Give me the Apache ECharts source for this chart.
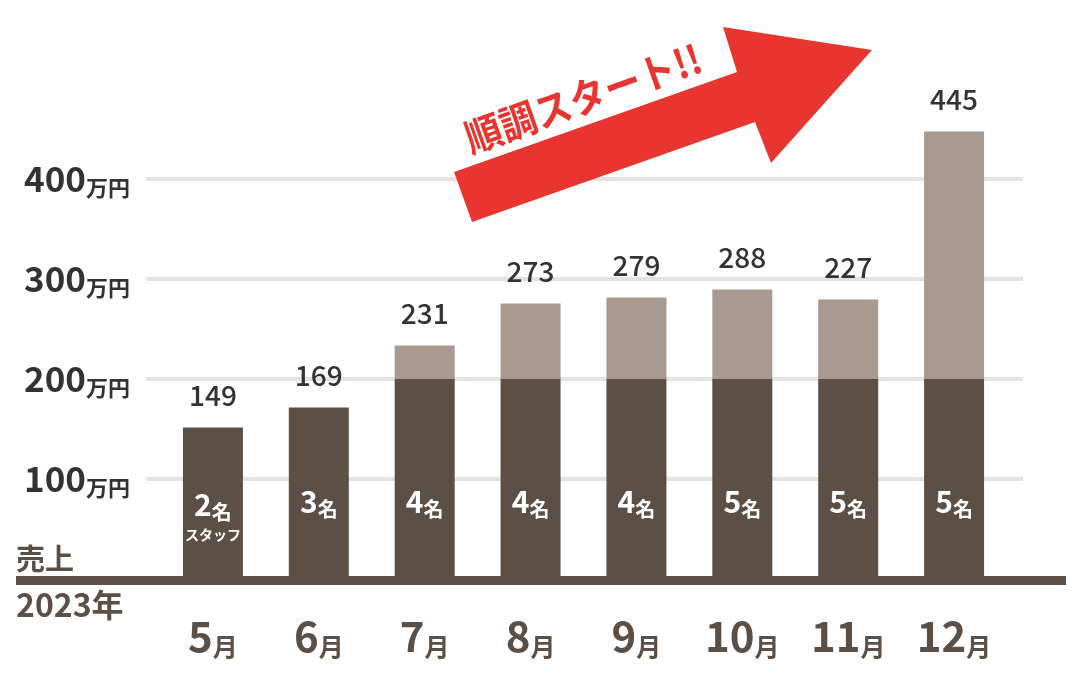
<!DOCTYPE html>
<html>
<head>
<meta charset="utf-8">
<style>
html,body{margin:0;padding:0;background:#fff;}
#c{width:1088px;height:678px;}
</style>
<script src="https://cdn.jsdelivr.net/npm/echarts@6/dist/echarts.min.js"></script>
</head>
<body>
<div id="c"></div>
<script>
// ---- data ----
const months = ['5', '6', '7', '8', '9', '10', '11', '12'];
const salesBarValues = [151, 171, 233, 275, 281, 289, 279, 447];
const salesLabels = ['149', '169', '231', '273', '279', '288', '227', '445'];
const staffCounts = [2, 3, 4, 4, 4, 5, 5, 5];
const yTickValues = [0, 100, 200, 300, 400];
const baseCap = 200;

const FONT = '"Noto Sans CJK JP", "Noto Sans", sans-serif';
const DARK = '#5c4f46';
const LIGHT = '#a89a91';
const GRID = '#e6e2de';
const TEXT = '#333333';
const RED = '#e8352f';

const darkPart = salesBarValues.map(v => Math.min(v, baseCap));
const lightPart = salesBarValues.map(v => Math.max(v - baseCap, 0));

const staffData = darkPart.map((v, i) => {
  const first = i === 0;
  return {
    value: v,
    label: {
      distance: first ? 30.5 : 59.5,
      formatter: first
        ? '{n|' + staffCounts[i] + '}{u|名}\n{s|スタッフ}'
        : '{n|' + staffCounts[i] + '}{u|名}'
    }
  };
});

const chart = echarts.init(document.getElementById('c'), null, {renderer: 'canvas'});

chart.setOption({
  animation: false,
  backgroundColor: '#ffffff',
  textStyle: {fontFamily: FONT},
  grid: [
    {left: 146, right: 65, top: 178.5, bottom: 99.5},
    {left: 160, right: 81, top: 78.5, bottom: 99.5},
    {left: 16, right: 22, top: 78.5, bottom: 97.5}
  ],
  xAxis: [
    {gridIndex: 0, type: 'category', data: months, show: false},
    {
      gridIndex: 1, type: 'category', data: months,
      axisLine: {show: false}, axisTick: {show: false},
      axisLabel: {
        margin: 35,
        formatter: v => '{n|' + v + '}{u|月}',
        rich: {
          n: {fontFamily: FONT, fontSize: 42, fontWeight: 'bold', color: DARK, lineHeight: 46, verticalAlign: 'middle'},
          u: {fontFamily: FONT, fontSize: 25, fontWeight: 'bold', color: DARK, lineHeight: 36, verticalAlign: 'bottom'}
        }
      }
    },
    {
      gridIndex: 2, type: 'category', data: [''], z: 10,
      axisLine: {show: true, lineStyle: {color: DARK, width: 9, cap: 'butt'}},
      axisTick: {show: false}, axisLabel: {show: false}
    }
  ],
  yAxis: [
    {
      gridIndex: 0, type: 'value', min: yTickValues[0], max: yTickValues[yTickValues.length - 1], interval: 100,
      axisLine: {show: false}, axisTick: {show: false},
      splitLine: {show: true, lineStyle: {color: GRID, width: 4}},
      axisLabel: {
        margin: 16,
        formatter: v => v === 0 ? '' : '{n|' + v + '}{u|万円}',
        rich: {
          n: {fontFamily: FONT, fontSize: 35, fontWeight: 'bold', color: TEXT, lineHeight: 40, verticalAlign: 'middle'},
          u: {fontFamily: FONT, fontSize: 22, fontWeight: 'bold', color: TEXT, lineHeight: 32, verticalAlign: 'bottom'}
        }
      }
    },
    {gridIndex: 1, type: 'value', min: 0, max: 500, show: false, splitLine: {show: false}},
    {gridIndex: 2, type: 'value', show: false, splitLine: {show: false}}
  ],
  series: [
    {
      type: 'bar', xAxisIndex: 1, yAxisIndex: 1, stack: 'sales', barWidth: 60,
      itemStyle: {color: DARK}, data: staffData,
      label: {
        show: true, position: 'insideBottom', color: '#fff',
        rich: {
          n: {fontFamily: FONT, fontSize: 30, fontWeight: 'bold', color: '#fff', lineHeight: 34, verticalAlign: 'middle'},
          u: {fontFamily: FONT, fontSize: 20, fontWeight: 'bold', color: '#fff', lineHeight: 29, verticalAlign: 'bottom'},
          s: {fontFamily: FONT, fontSize: 14, fontWeight: 'bold', color: '#fff', lineHeight: 26}
        }
      },
      z: 2
    },
    {
      type: 'bar', xAxisIndex: 1, yAxisIndex: 1, stack: 'sales', barWidth: 60,
      itemStyle: {color: LIGHT}, data: lightPart, z: 2
    },
    {
      type: 'scatter', xAxisIndex: 1, yAxisIndex: 1, data: salesBarValues,
      symbolSize: 1, itemStyle: {color: 'rgba(0,0,0,0)'}, z: 5,
      label: {
        show: true, position: 'top', distance: 18,
        formatter: p => salesLabels[p.dataIndex],
        fontFamily: FONT, fontSize: 28, fontWeight: 500, color: TEXT, lineHeight: 28, opacity: 1
      }
    }
  ],
  graphic: [
    {
      type: 'polygon', z: 20,
      shape: {points: [[454, 172], [737, 72], [723, 27], [872, 50], [771, 163], [755, 122], [472, 222]]},
      style: {fill: RED}
    },
    {
      type: 'text', z: 21, x: 583, y: 98, rotation: 0.34, scaleX: 0.92,
      style: {text: '順調スタート!!', fill: RED, font: 'bold 40px ' + FONT, align: 'center', verticalAlign: 'middle'}
    },
    {
      type: 'text', z: 21, x: 16, y: 559,
      style: {text: '売上', fill: DARK, font: 'bold 29px ' + FONT, align: 'left', verticalAlign: 'middle'}
    },
    {
      type: 'text', z: 21, x: 16, y: 605,
      style: {text: '2023年', fill: DARK, font: 'bold 32px ' + FONT, align: 'left', verticalAlign: 'middle'}
    }
  ]
});
</script>
</body>
</html>
